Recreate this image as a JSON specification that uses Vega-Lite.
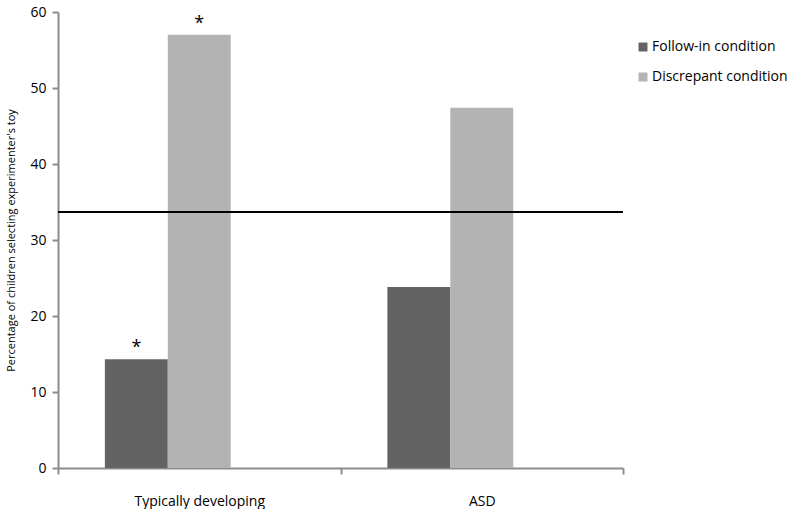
{
  "$schema": "https://vega.github.io/schema/vega-lite/v6.json",
  "width": 565,
  "height": 456,
  "autosize": {"type": "none"},
  "padding": {"left": 58, "top": 12, "right": 177, "bottom": 41},
  "background": "white",
  "config": {
    "view": {"stroke": null},
    "font": "Open Sans"
  },
  "data": {
    "values": [
      {"group": "Typically developing", "condition": "Follow-in condition", "value": 14.3, "sig": "*"},
      {"group": "Typically developing", "condition": "Discrepant condition", "value": 57.0, "sig": "*"},
      {"group": "ASD", "condition": "Follow-in condition", "value": 23.8, "sig": ""},
      {"group": "ASD", "condition": "Discrepant condition", "value": 47.4, "sig": ""}
    ]
  },
  "layer": [
    {
      "mark": {"type": "bar"},
      "encoding": {
        "x": {
          "field": "group", "type": "nominal",
          "sort": ["Typically developing", "ASD"],
          "scale": {"paddingInner": 0, "paddingOuter": 0},
          "axis": {
            "title": null, "labelAngle": 0, "labelFontSize": 14, "labelColor": "#000000",
            "labelPadding": 20, "tickBand": "extent", "tickSize": 6, "tickColor": "#8c8c8c",
            "domainColor": "#8c8c8c", "domainWidth": 2, "tickWidth": 2
          }
        },
        "xOffset": {
          "field": "condition", "type": "nominal",
          "scale": {"domain": ["Follow-in condition", "Discrepant condition", "-"], "paddingInner": 0, "paddingOuter": 0.745}
        },
        "y": {
          "field": "value", "type": "quantitative",
          "scale": {"domain": [0, 60]},
          "axis": {
            "values": [0, 10, 20, 30, 40, 50, 60], "grid": false,
            "title": "Percentage of children selecting experimenter's toy",
            "titleFontSize": 11, "titleFontWeight": "normal", "titleColor": "#000000", "titlePadding": 13,
            "labelFontSize": 14, "labelColor": "#000000", "labelPadding": 6,
            "tickSize": 6, "tickColor": "#8c8c8c", "tickWidth": 2,
            "domainColor": "#8c8c8c", "domainWidth": 2
          }
        },
        "color": {
          "field": "condition", "type": "nominal",
          "scale": {"domain": ["Follow-in condition", "Discrepant condition"], "range": ["#636363", "#b3b3b3"]},
          "legend": {
            "title": null, "orient": "none", "legendX": 578, "legendY": 28,
            "symbolType": "square", "symbolSize": 80, "symbolStrokeWidth": 0,
            "labelFontSize": 14, "labelColor": "#000000", "rowPadding": 16, "labelOffset": 2
          }
        }
      }
    },
    {
      "mark": {"type": "text", "baseline": "bottom", "dy": -2, "fontSize": 18, "color": "#000000"},
      "encoding": {
        "x": {"field": "group", "type": "nominal", "sort": ["Typically developing", "ASD"]},
        "xOffset": {"field": "condition", "type": "nominal"},
        "y": {"field": "value", "type": "quantitative"},
        "text": {"field": "sig"}
      }
    },
    {
      "mark": {"type": "rule", "color": "#000000", "strokeWidth": 2},
      "encoding": {"y": {"datum": 33.7}}
    }
  ]
}
